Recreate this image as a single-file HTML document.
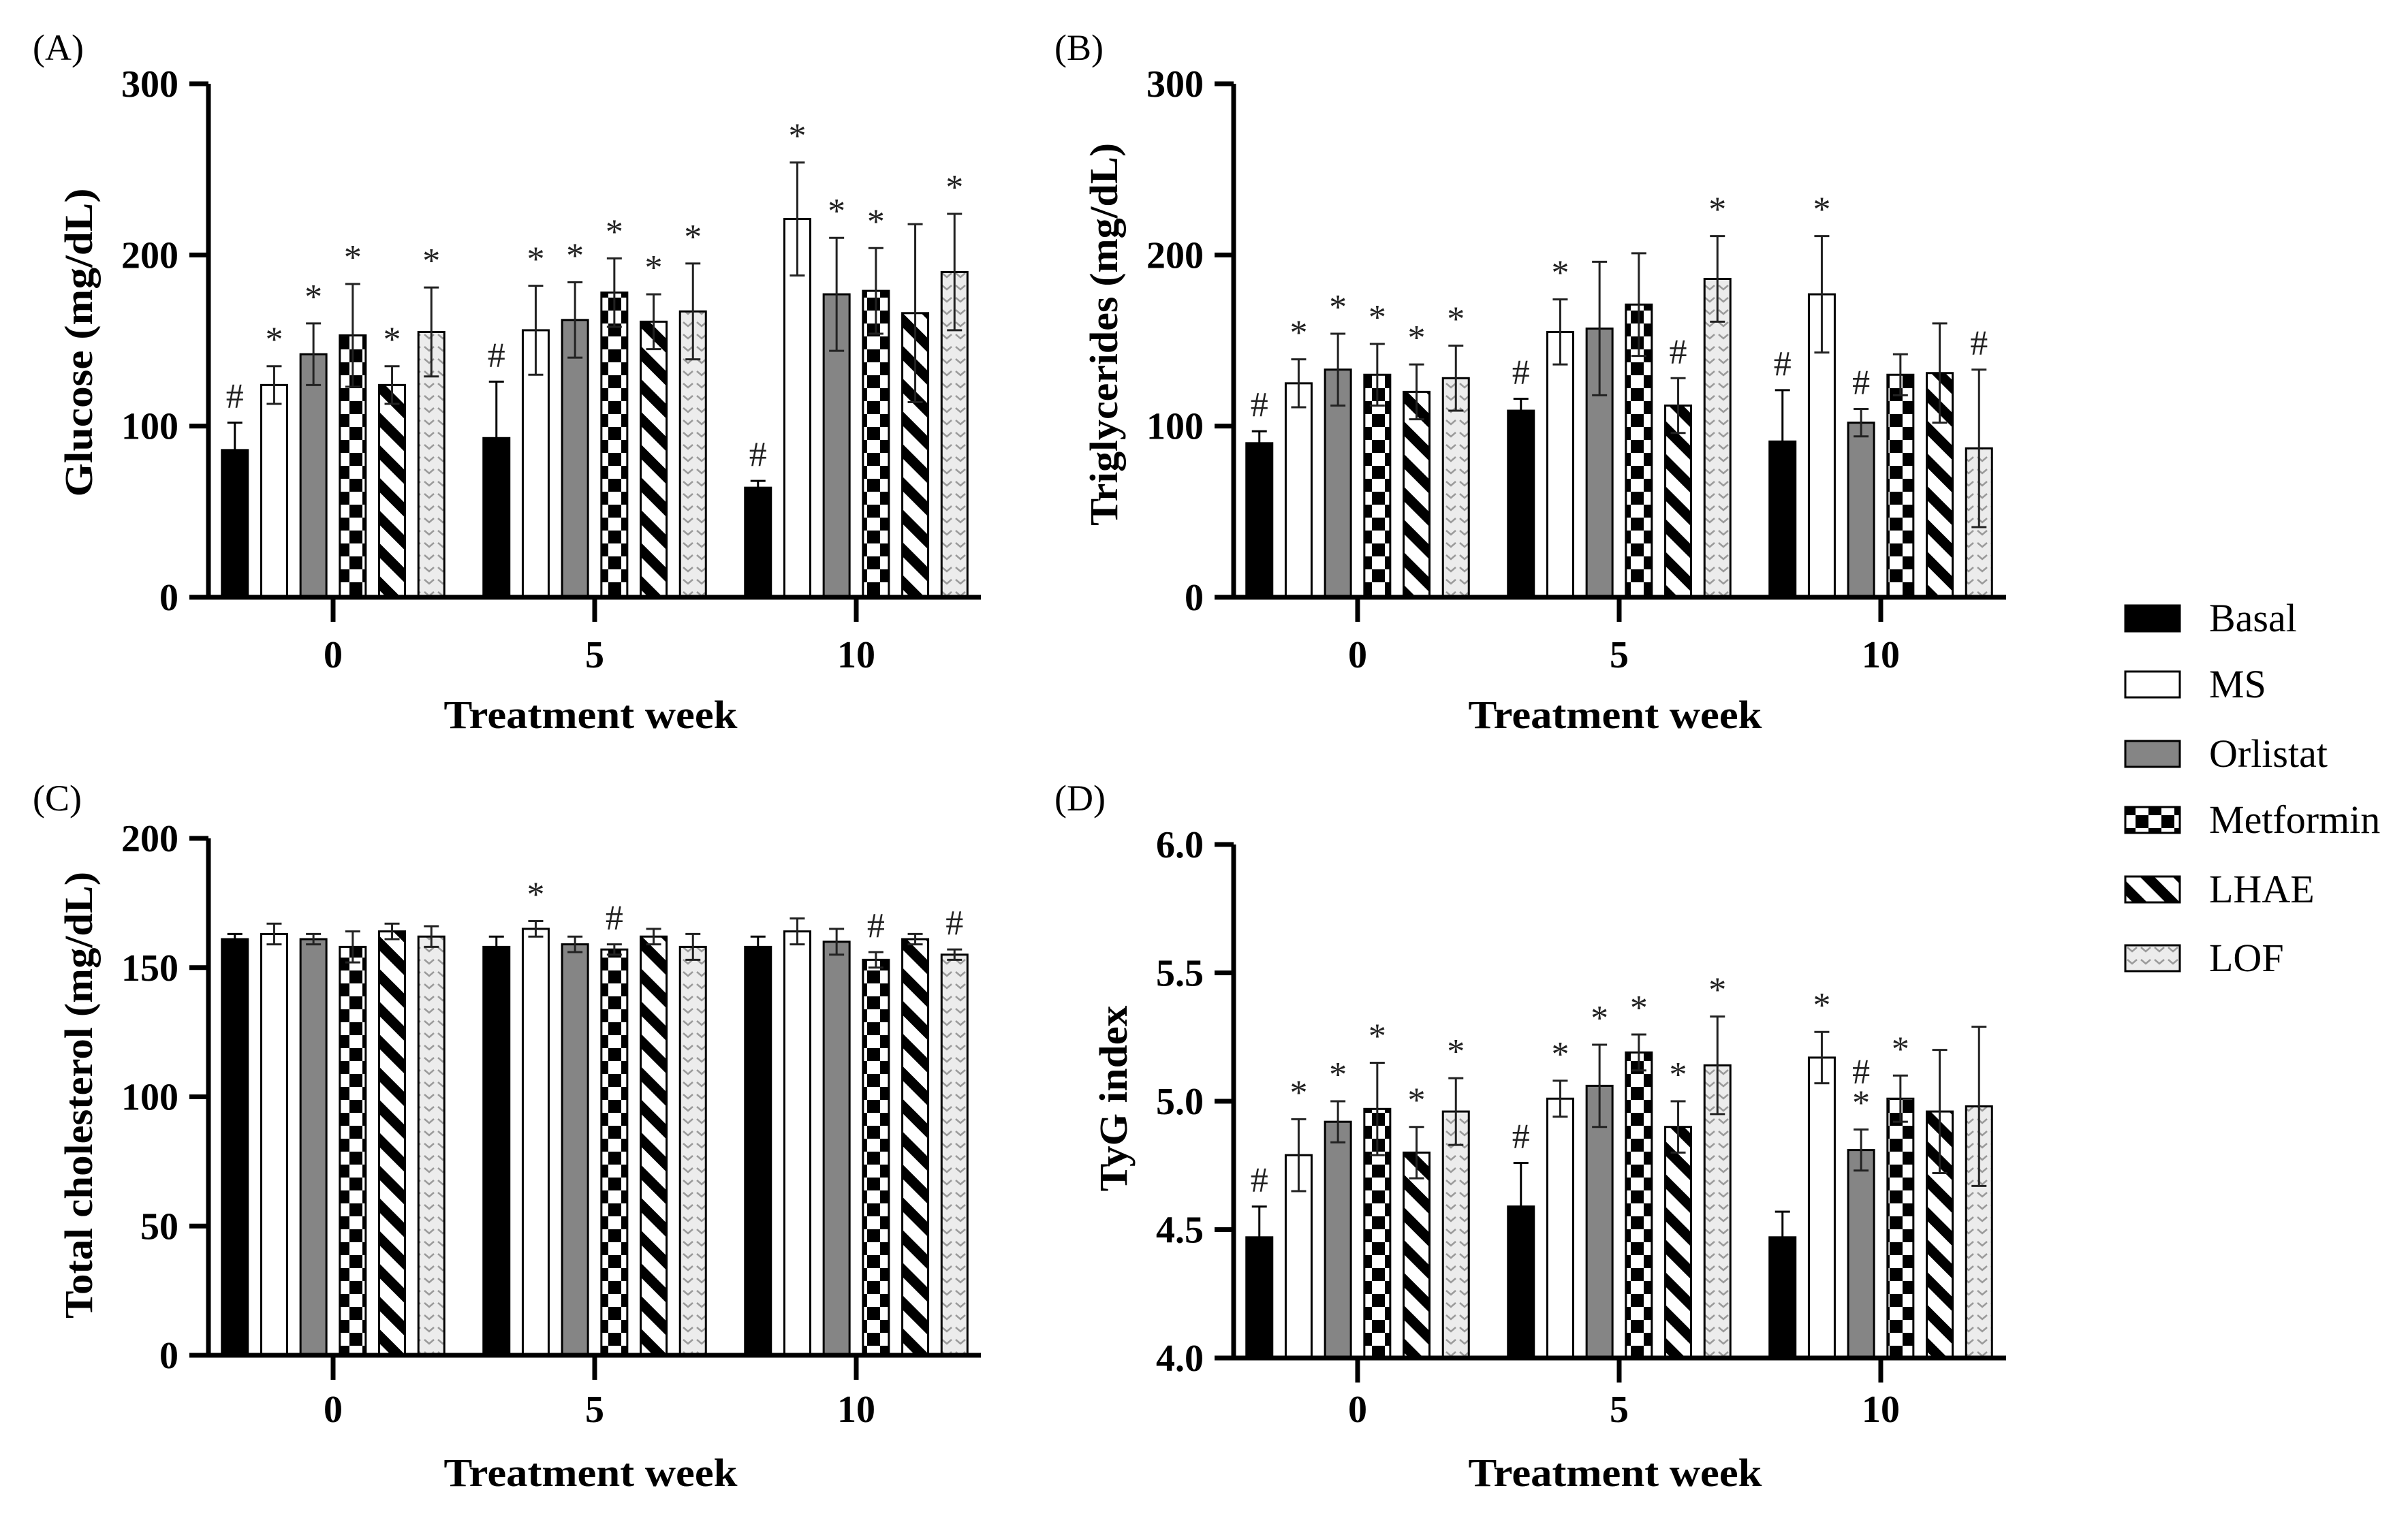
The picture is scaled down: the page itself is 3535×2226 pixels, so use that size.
<!DOCTYPE html>
<html><head><meta charset="utf-8"><style>
html,body{margin:0;padding:0;background:#fff;}
svg{display:block;}
text{font-family:"Liberation Serif",serif;}
</style></head><body>
<svg id="fig" width="3535" height="2226" viewBox="0 0 3535 2226" xmlns="http://www.w3.org/2000/svg">
<defs>
<pattern id="pat-check" patternUnits="userSpaceOnUse" width="38" height="38">
<rect width="38" height="38" fill="#fff"/><rect width="19" height="19" fill="#000"/><rect x="19" y="19" width="19" height="19" fill="#000"/>
</pattern>
<pattern id="pat-diag" patternUnits="userSpaceOnUse" width="34" height="34" patternTransform="rotate(45)">
<rect width="34" height="34" fill="#fff"/><rect width="34" height="15" fill="#000"/>
</pattern>
<pattern id="pat-lof" patternUnits="userSpaceOnUse" width="20" height="18">
<rect width="20" height="18" fill="#ececec"/><path d="M3 5 L10 11 L17 5" stroke="#9a9a9a" stroke-width="2.5" fill="none"/>
</pattern>
</defs>
<g id="root"></g>
</svg>
<script>
const groups = ["0","5","10"];
const seriesNames = ["Basal","MS","Orlistat","Metformin","LHAE","LOF"];
// Glucose
const glucoseMean = [[86,124,142,153,124,155],[93,156,162,178,161,167],[64,221,177,179,166,190]];
const glucoseErr  = [[16,11,18,30,11,26],[33,26,22,20,16,28],[4,33,33,25,52,34]];
const glucoseSig  = [["#","*","*","*","*","*"],["#","*","*","*","*","*"],["#","*","*","*","","*"]];
// Triglycerides
const tgMean = [[90,125,133,130,120,128],[109,155,157,171,112,186],[91,177,102,130,131,87]];
const tgErr  = [[7,14,21,18,16,19],[7,19,39,30,16,25],[30,34,8,12,29,46]];
const tgSig  = [["#","*","*","*","*","*"],["#","*","","","#","*"],["#","*","#","","","#"]];
// Total cholesterol
const tcMean = [[161,163,161,158,164,162],[158,165,159,157,162,158],[158,164,160,153,161,155]];
const tcErr  = [[2,4,2,6,3,4],[4,3,3,2,3,5],[4,5,5,3,2,2]];
const tcSig  = [["","","","","",""],["","*","","#","",""],["","","","#","","#"]];
// TyG index
const tygMean = [[4.47,4.79,4.92,4.97,4.80,4.96],[4.59,5.01,5.06,5.19,4.90,5.14],[4.47,5.17,4.81,5.01,4.96,4.98]];
const tygErr  = [[0.12,0.14,0.08,0.18,0.10,0.13],[0.17,0.07,0.16,0.07,0.10,0.19],[0.10,0.10,0.08,0.09,0.24,0.31]];
const tygSig  = [["#","*","*","*","*","*"],["#","*","*","*","*","*"],["","*","#*","*","",""]];
const glucoseTicks = [0,100,200,300];
const tgTicks = [0,100,200,300];
const tcTicks = [0,50,100,150,200];
const tygTicks = [4.0,4.5,5.0,5.5,6.0];

const NS = "http://www.w3.org/2000/svg";
const root = document.getElementById("root");
const fills = ["#000","#fff","#858585","url(#pat-check)","url(#pat-diag)","url(#pat-lof)"];
function el(tag, attrs, parent){const e=document.createElementNS(NS,tag);for(const k in attrs)e.setAttribute(k,attrs[k]);(parent||root).appendChild(e);return e;}

function panel(cfg){
  const g=el("g",{});
  
  
  const [d0,d1]=cfg.domain,[r0,r1]=cfg.range;
  const y=v=>r0+(v-d0)*(r1-r0)/(d1-d0);
  const gx=i=>cfg.gx0+i*384;
  const bx=(i,j)=>gx(i)+(j-2.5)*57.7;
  cfg.mean.forEach((row,i)=>row.forEach((v,j)=>{
    const b=el("rect",{x:bx(i,j)-19,y:y(v),width:38,height:y(d0)-y(v),fill:fills[j],stroke:"#000","stroke-width":3},g);
    
    
    const e=cfg.err[i][j],cx=bx(i,j),lc=j===0?"#000":"#222";
    const hi=y(v+e),lo=y(Math.max(d0,v-e));
    const eb=el("path",{d:`M${cx} ${hi}V${lo}M${cx-11} ${hi}H${cx+11}M${cx-11} ${lo}H${cx+11}`,stroke:lc,"stroke-width":3,fill:"none"},g);
    
    
    const s=cfg.sig[i][j];
    if(s){
      const parts=s.split("");
      parts.forEach((ch,k)=>{
        const t=el("text",{x:cx,y:hi-22-(parts.length-1-k)*46,"text-anchor":"middle","font-size":52,fill:"#222"},g);
        t.textContent=ch;
        
        
      });
    }
  }));
  const ax=el("path",{d:`M${cfg.ax} ${r1}V${r0}M${cfg.ax-28} ${r0}H${cfg.ax+1134}`,stroke:"#000","stroke-width":7,fill:"none"},g);
  
  
  cfg.ticks.forEach(v=>{
    const tk=el("path",{d:`M${cfg.ax-28} ${y(v)}H${cfg.ax}`,stroke:"#000","stroke-width":7},g);
    
    
    const t=el("text",{x:cfg.ax-44,y:y(v)+19,"text-anchor":"end","font-size":56,"font-weight":"bold"},g);
    t.textContent=cfg.fmt(v);
    
    
  });
  groups.forEach((lab,i)=>{
    const tk=el("path",{d:`M${gx(i)} ${r0}V${r0+36}`,stroke:"#000","stroke-width":7},g);
    
    
    const t=el("text",{x:gx(i),y:cfg.xlabY+19,"text-anchor":"middle","font-size":56,"font-weight":"bold"},g);
    t.textContent=lab;
    
    
  });
  const xt=el("text",{x:cfg.gx0+384-6,y:cfg.xtitleY+20,"text-anchor":"middle","font-size":58,"font-weight":"bold",textLength:431,lengthAdjust:"spacingAndGlyphs"},g);
  xt.textContent="Treatment week";
  
  
  const yt=el("text",{x:0,y:0,"text-anchor":"middle","font-size":58,"font-weight":"bold",textLength:cfg.ylen,lengthAdjust:"spacingAndGlyphs",transform:`translate(${cfg.ylx+20},${cfg.yly}) rotate(-90)`},g);
  yt.textContent=cfg.ytitle;
  
  
  const pl=el("text",{x:cfg.px,y:cfg.py,"font-size":54},g);
  pl.textContent=cfg.letter;
  
  
}
panel({name:"panel-a-glucose",key:"glucose",letter:"(A)",mean:glucoseMean,err:glucoseErr,sig:glucoseSig,ticks:glucoseTicks,fmt:v=>String(v),domain:[0,300],range:[877,123],ax:306,gx0:489,xlabY:961,xtitleY:1049,ytitle:"Glucose (mg/dL)",ylx:115,yly:503,ylen:453,px:48,py:88});
panel({name:"panel-b-triglycerides",key:"tg",letter:"(B)",mean:tgMean,err:tgErr,sig:tgSig,ticks:tgTicks,fmt:v=>String(v),domain:[0,300],range:[877,123],ax:1811,gx0:1993,xlabY:961,xtitleY:1049,ytitle:"Triglycerides (mg/dL)",ylx:1620,yly:491,ylen:562,px:1548,py:88});
panel({name:"panel-c-cholesterol",key:"tc",letter:"(C)",mean:tcMean,err:tcErr,sig:tcSig,ticks:tcTicks,fmt:v=>String(v),domain:[0,200],range:[1990,1231],ax:306,gx0:489,xlabY:2069,xtitleY:2162,ytitle:"Total cholesterol (mg/dL)",ylx:115,yly:1608,ylen:656,px:48,py:1190});
panel({name:"panel-d-tyg",key:"tyg",letter:"(D)",mean:tygMean,err:tygErr,sig:tygSig,ticks:tygTicks,fmt:v=>v.toFixed(1),domain:[4,6],range:[1994,1240],ax:1811,gx0:1993,xlabY:2069,xtitleY:2162,ytitle:"TyG index",ylx:1634,yly:1613,ylen:273,px:1548,py:1190});

const lg=el("g",{});


const legY=[908,1005,1107,1204,1306,1407];
seriesNames.forEach((n,j)=>{
  const r=el("rect",{x:3120,y:legY[j]-19,width:80,height:38,fill:fills[j],stroke:"#000","stroke-width":3},lg);
  
  
  const t=el("text",{x:3243,y:legY[j]+19,"font-size":58},lg);
  t.textContent=n;
  
  
});
</script>
</body></html>
